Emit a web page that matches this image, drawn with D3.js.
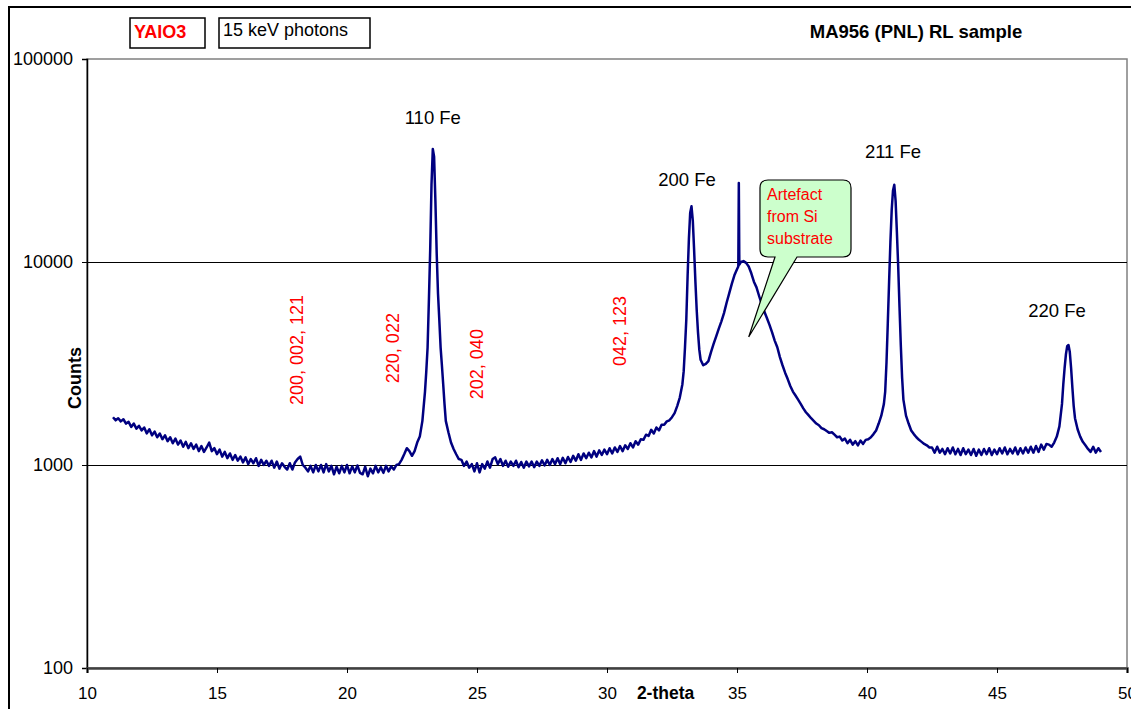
<!DOCTYPE html>
<html>
<head>
<meta charset="utf-8">
<script src="https://cdn.jsdelivr.net/npm/d3@7"></script>
<style>
  body { margin: 0; background: #fff; }
  text { font-family: Arial, "Liberation Sans", sans-serif; }
</style>
</head>
<body>
<div id="chart"></div>
<script>
// scan: 2-theta positions and counts
const twoTheta = [
  11.0, 11.1, 11.2, 11.3, 11.4, 11.5, 11.6, 11.7, 11.8, 11.9,
  12.0, 12.1, 12.2, 12.3, 12.4, 12.5, 12.6, 12.7, 12.8, 12.9,
  13.0, 13.1, 13.2, 13.3, 13.4, 13.5, 13.6, 13.7, 13.8, 13.9,
  14.0, 14.1, 14.2, 14.3, 14.4, 14.5, 14.6, 14.7, 14.8, 14.9,
  15.0, 15.1, 15.2, 15.3, 15.4, 15.5, 15.6, 15.7, 15.8, 15.9,
  16.0, 16.1, 16.2, 16.3, 16.4, 16.5, 16.6, 16.7, 16.8, 16.9,
  17.0, 17.1, 17.2, 17.3, 17.4, 17.5, 17.6, 17.7, 17.8, 17.9,
  18.0, 18.1, 18.2, 18.3, 18.4, 18.5, 18.6, 18.7, 18.8, 18.9,
  19.0, 19.1, 19.2, 19.3, 19.4, 19.5, 19.6, 19.7, 19.8, 19.9,
  20.0, 20.1, 20.2, 20.3, 20.4, 20.5, 20.6, 20.7, 20.8, 20.9,
  21.0, 21.1, 21.2, 21.3, 21.4, 21.5, 21.6, 21.7, 21.8, 21.9,
  22.0, 22.1, 22.2, 22.3, 22.4, 22.5, 22.6, 22.7, 22.8, 22.9,
  23.0, 23.05, 23.1, 23.15, 23.2, 23.25, 23.3, 23.35, 23.4, 23.45,
  23.5, 23.55, 23.6, 23.65, 23.7, 23.75, 23.8, 23.9,
  24.0, 24.1, 24.2, 24.3, 24.4, 24.5, 24.6, 24.7, 24.8, 24.9,
  25.0, 25.1, 25.2, 25.3, 25.4, 25.5, 25.6, 25.7, 25.8, 25.9,
  26.0, 26.1, 26.2, 26.3, 26.4, 26.5, 26.6, 26.7, 26.8, 26.9,
  27.0, 27.1, 27.2, 27.3, 27.4, 27.5, 27.6, 27.7, 27.8, 27.9,
  28.0, 28.1, 28.2, 28.3, 28.4, 28.5, 28.6, 28.7, 28.8, 28.9,
  29.0, 29.1, 29.2, 29.3, 29.4, 29.5, 29.6, 29.7, 29.8, 29.9,
  30.0, 30.1, 30.2, 30.3, 30.4, 30.5, 30.6, 30.7, 30.8, 30.9,
  31.0, 31.1, 31.2, 31.3, 31.4, 31.5, 31.6, 31.7, 31.8, 31.9,
  32.0, 32.1, 32.2, 32.3, 32.4, 32.5, 32.6, 32.7, 32.8, 32.9,
  32.95, 33.0, 33.05, 33.1, 33.15, 33.2, 33.25, 33.3, 33.35, 33.4,
  33.45, 33.5, 33.55, 33.6, 33.7, 33.8, 33.9,
  34.0, 34.1, 34.2, 34.3, 34.4, 34.5, 34.6, 34.7, 34.8, 34.9,
  35.0, 35.05, 35.07, 35.09, 35.15, 35.25, 35.35, 35.45, 35.55, 35.65,
  35.75, 35.85, 35.95, 36.05, 36.15, 36.25, 36.35, 36.45, 36.55, 36.65,
  36.75, 36.85, 36.95, 37.05, 37.15, 37.25, 37.35, 37.45, 37.55, 37.65,
  37.75, 37.85, 37.95, 38.05, 38.15, 38.25, 38.35, 38.45, 38.55, 38.65,
  38.75, 38.85, 38.95, 39.05, 39.15, 39.25, 39.35, 39.45, 39.55, 39.65,
  39.75, 39.85, 39.95, 40.05, 40.15, 40.25, 40.35, 40.45, 40.55, 40.65,
  40.7, 40.75, 40.8, 40.85, 40.9, 40.95, 41.0, 41.05, 41.1, 41.15,
  41.2, 41.25, 41.3, 41.35, 41.4, 41.5, 41.6, 41.7, 41.8, 41.9,
  42.0, 42.1, 42.2, 42.3, 42.4, 42.5, 42.6, 42.7, 42.8, 42.9,
  43.0, 43.1, 43.2, 43.3, 43.4, 43.5, 43.6, 43.7, 43.8, 43.9,
  44.0, 44.1, 44.2, 44.3, 44.4, 44.5, 44.6, 44.7, 44.8, 44.9,
  45.0, 45.1, 45.2, 45.3, 45.4, 45.5, 45.6, 45.7, 45.8, 45.9,
  46.0, 46.1, 46.2, 46.3, 46.4, 46.5, 46.6, 46.7, 46.8, 46.9,
  47.0, 47.1, 47.2, 47.3, 47.4, 47.5, 47.55, 47.6, 47.65, 47.7,
  47.75, 47.8, 47.85, 47.9, 47.95, 48.0, 48.1, 48.2, 48.3, 48.4,
  48.5, 48.6, 48.7, 48.8, 48.9, 49.0
];
const counts = [
  1720, 1660, 1700, 1640, 1680, 1600, 1630, 1540, 1600, 1510,
  1560, 1480, 1530, 1430, 1500, 1400, 1460, 1370, 1430, 1340,
  1400, 1310, 1370, 1280, 1350, 1260, 1320, 1230, 1300, 1210,
  1280, 1200, 1260, 1170, 1240, 1160, 1220, 1290, 1170, 1210,
  1130, 1190, 1100, 1160, 1080, 1140, 1060, 1120, 1050, 1100,
  1030, 1090, 1010, 1070, 1020, 1080, 990, 1060, 1000, 1050,
  990, 1050, 970, 1040, 960, 1020, 980, 950, 1020, 950,
  1030, 1070, 1100, 1000, 970, 930, 990, 920, 1000, 930,
  1000, 920, 1010, 930, 990, 900, 980, 910, 990, 920,
  1000, 910, 985, 920, 995, 915, 900, 980, 880, 960,
  910, 990, 920, 975, 915, 990, 930, 985, 950, 1000,
  1010, 1060, 1130, 1210, 1170, 1110, 1170, 1290, 1380, 1650,
  2300, 2900, 3800, 6500, 11500, 24000, 36000, 33000, 20000, 11000,
  7000, 5200, 3800, 3100, 2500, 2000, 1650, 1450,
  1290, 1200, 1130, 1070, 1060, 990, 1040, 970, 1010, 930,
  1020, 920, 1010, 960, 1040, 970, 1070, 1090, 1010, 1070,
  990, 1050, 980, 1040, 990, 1050, 975, 1035, 970, 1040,
  985, 1040, 975, 1040, 990, 1055, 995, 1060, 1000, 1070,
  1010, 1080, 1010, 1085, 1020, 1095, 1035, 1110, 1050, 1130,
  1060, 1140, 1080, 1150, 1090, 1170, 1100, 1180, 1120, 1190,
  1130, 1210, 1140, 1220, 1160, 1240, 1170, 1250, 1200, 1280,
  1220, 1310, 1260, 1340, 1330, 1410, 1390, 1490, 1430, 1530,
  1480, 1580, 1580, 1640, 1660, 1720, 1800, 1950, 2150, 2500,
  2900, 3800, 5200, 8500, 13000, 17500, 18800, 16000, 11500, 8000,
  5800, 4500, 3700, 3300, 3100, 3150, 3250,
  3600, 3950, 4300, 4700, 5100, 5600, 6300, 7000, 7800, 8600,
  9200, 9500, 24500, 9700, 10000, 10100, 9900, 9500, 8800, 8000,
  7500, 6800, 6200, 5700, 5300, 4900, 4500, 4100, 3800, 3400,
  3100, 2850, 2650, 2450, 2300, 2200, 2100, 2000, 1900, 1820,
  1760, 1700, 1650, 1600, 1570, 1520, 1500, 1470, 1440, 1450,
  1410, 1370, 1380, 1320, 1350, 1280, 1330, 1260, 1310, 1250,
  1320, 1270, 1330, 1340, 1370, 1420, 1480, 1600, 1750, 2000,
  2300, 3200, 5000, 8000, 12500, 18000, 22500, 24000, 20000, 14000,
  9500, 6000, 3900, 2700, 2100, 1750, 1600, 1480, 1420, 1370,
  1330, 1300, 1270, 1250, 1220, 1220, 1150, 1230, 1150, 1200,
  1130, 1210, 1140, 1220, 1130, 1200, 1120, 1210, 1130, 1190,
  1120, 1200, 1110, 1190, 1120, 1200, 1130, 1210, 1120, 1190,
  1130, 1210, 1140, 1220, 1130, 1200, 1140, 1220, 1130, 1210,
  1140, 1220, 1150, 1230, 1150, 1240, 1160, 1260, 1190, 1270,
  1260, 1230, 1290, 1380, 1550, 2000, 2500, 3000, 3500, 3850,
  3900, 3600, 3000, 2400, 1950, 1700, 1500, 1380, 1300, 1250,
  1200, 1160, 1230, 1150, 1210, 1160
];
const xTicks = [10, 15, 20, 25, 30, 35, 40, 45, 50];
const yTicks = [100, 1000, 10000, 100000];
const peakLabels = ["110 Fe", "200 Fe", "211 Fe", "220 Fe"];
const peakPos = [[23.3, 47900], [33.08, 23700], [41.0, 32500], [47.31, 5360]];
const oxideLabels = ["200, 002, 121", "220, 022", "202, 040", "042, 123"];
const oxidePos = [[18.08, 1975], [21.77, 2530], [25.0, 2110], [30.5, 3070]];

const width = 1131, height = 709;
const margin = { top: 59, right: 4, bottom: 41, left: 87 };
const innerW = width - margin.left - margin.right;
const innerH = height - margin.top - margin.bottom;

const svg = d3.select("#chart").append("svg")
    .attr("width", width)
    .attr("height", height);

// outer chart-area border
svg.append("rect")
    .attr("x", 9).attr("y", 7)
    .attr("width", 1200).attr("height", 800)
    .attr("fill", "none").attr("stroke", "#000").attr("stroke-width", 2);

const x = d3.scaleLinear().domain([10, 50]).range([0, innerW]);
const y = d3.scaleLog().domain([100, 100000]).range([innerH, 0]);

const g = svg.append("g")
    .attr("transform", `translate(${margin.left},${margin.top})`);

// plot area frame (grey)
g.append("rect")
    .attr("width", innerW).attr("height", innerH)
    .attr("fill", "#fff").attr("stroke", "#808080").attr("stroke-width", 1.5);

// gridlines
g.selectAll(".grid")
    .data(yTicks.slice(1, 3))
    .enter().append("line")
    .attr("x1", 0).attr("x2", innerW)
    .attr("y1", d => y(d)).attr("y2", d => y(d))
    .attr("stroke", "#000").attr("stroke-width", 1)
    .attr("shape-rendering", "crispEdges");

// axes
const yAxis = g.append("g")
    .call(d3.axisLeft(y).tickValues(yTicks).tickFormat(d3.format("d")).tickSize(5).tickPadding(9));
const xAxis = g.append("g")
    .attr("transform", `translate(0,${innerH})`)
    .call(d3.axisBottom(x).tickValues(xTicks).tickSize(5).tickPadding(14));
[yAxis, xAxis].forEach(a => {
    a.selectAll("text").attr("fill", "#000")
        .attr("font-family", "Arial, 'Liberation Sans', sans-serif");
    a.selectAll("line").attr("stroke", "#000");
    a.select(".domain").attr("stroke", "#000").attr("stroke-width", 1.5);
});
yAxis.selectAll("text").attr("font-size", 18);
xAxis.selectAll("text").attr("font-size", 17);
xAxis.select(".domain").attr("stroke", "#404040").attr("stroke-width", 2.5);

// axis titles
g.append("text")
    .attr("x", x(31.15)).attr("y", innerH + 31)
    .attr("font-size", 17.5).attr("font-weight", "bold")
    .attr("text-anchor", "start")
    .text("2-theta");
g.append("text")
    .attr("transform", `translate(-6,${y(2680)}) rotate(-90)`)
    .attr("font-size", 18).attr("font-weight", "bold")
    .attr("text-anchor", "middle")
    .text("Counts");

// the scan
const scan = twoTheta.map((t, i) => ({ t: t, c: counts[i] }));
g.append("path")
    .datum(scan)
    .attr("fill", "none")
    .attr("stroke", "#000080")
    .attr("stroke-width", 2.5)
    .attr("stroke-linejoin", "round")
    .attr("d", d3.line().x(d => x(d.t)).y(d => y(d.c)));

// peak labels
g.selectAll(".peak")
    .data(peakLabels)
    .enter().append("text")
    .attr("x", (d, i) => x(peakPos[i][0]))
    .attr("y", (d, i) => y(peakPos[i][1]))
    .attr("text-anchor", "middle")
    .attr("font-size", 18.5)
    .text(d => d);

// oxide reflections (rotated, red)
g.selectAll(".oxide")
    .data(oxideLabels)
    .enter().append("text")
    .attr("transform", (d, i) => `translate(${x(oxidePos[i][0])},${y(oxidePos[i][1])}) rotate(-90)`)
    .attr("fill", "#ff0000")
    .attr("font-size", 18)
    .attr("dy", "0.35em")
    .text(d => d);

// callout
const callout = g.append("g");
const cx0 = 760 - margin.left, cy0 = 180 - margin.top, cw = 91, ch = 77;
callout.append("path")
    .attr("d", `M${cx0 + 8},${cy0} H${cx0 + cw - 8} Q${cx0 + cw},${cy0} ${cx0 + cw},${cy0 + 8}
      V${cy0 + ch - 8} Q${cx0 + cw},${cy0 + ch} ${cx0 + cw - 8},${cy0 + ch}
      H${cx0 + 37} L${x(35.45)},${y(4270)} L${cx0 + 15},${cy0 + ch}
      H${cx0 + 8} Q${cx0},${cy0 + ch} ${cx0},${cy0 + ch - 8} V${cy0 + 8} Q${cx0},${cy0} ${cx0 + 8},${cy0} Z`)
    .attr("fill", "#ccffcc").attr("stroke", "#000").attr("stroke-width", 1.2);
["Artefact", "from Si", "substrate"].forEach((s, i) => {
    callout.append("text")
        .attr("x", cx0 + 7).attr("y", cy0 + 20 + i * 22)
        .attr("fill", "#ff0000").attr("font-size", 16)
        .text(s);
});

// title and boxes
svg.append("text")
    .attr("x", 916).attr("y", 38)
    .attr("text-anchor", "middle")
    .attr("font-size", 18.5).attr("font-weight", "bold")
    .text("MA956 (PNL) RL sample");

svg.append("rect").attr("x", 130).attr("y", 18).attr("width", 75).attr("height", 30)
    .attr("fill", "#fff").attr("stroke", "#000").attr("stroke-width", 1.5);
svg.append("text").attr("x", 134).attr("y", 38)
    .attr("fill", "#ff0000").attr("font-size", 18).attr("font-weight", "bold")
    .text("YAIO3");
svg.append("rect").attr("x", 219).attr("y", 18).attr("width", 151).attr("height", 30)
    .attr("fill", "#fff").attr("stroke", "#000").attr("stroke-width", 1.5);
svg.append("text").attr("x", 223).attr("y", 36)
    .attr("font-size", 18)
    .text("15 keV photons");
</script>
</body>
</html>
